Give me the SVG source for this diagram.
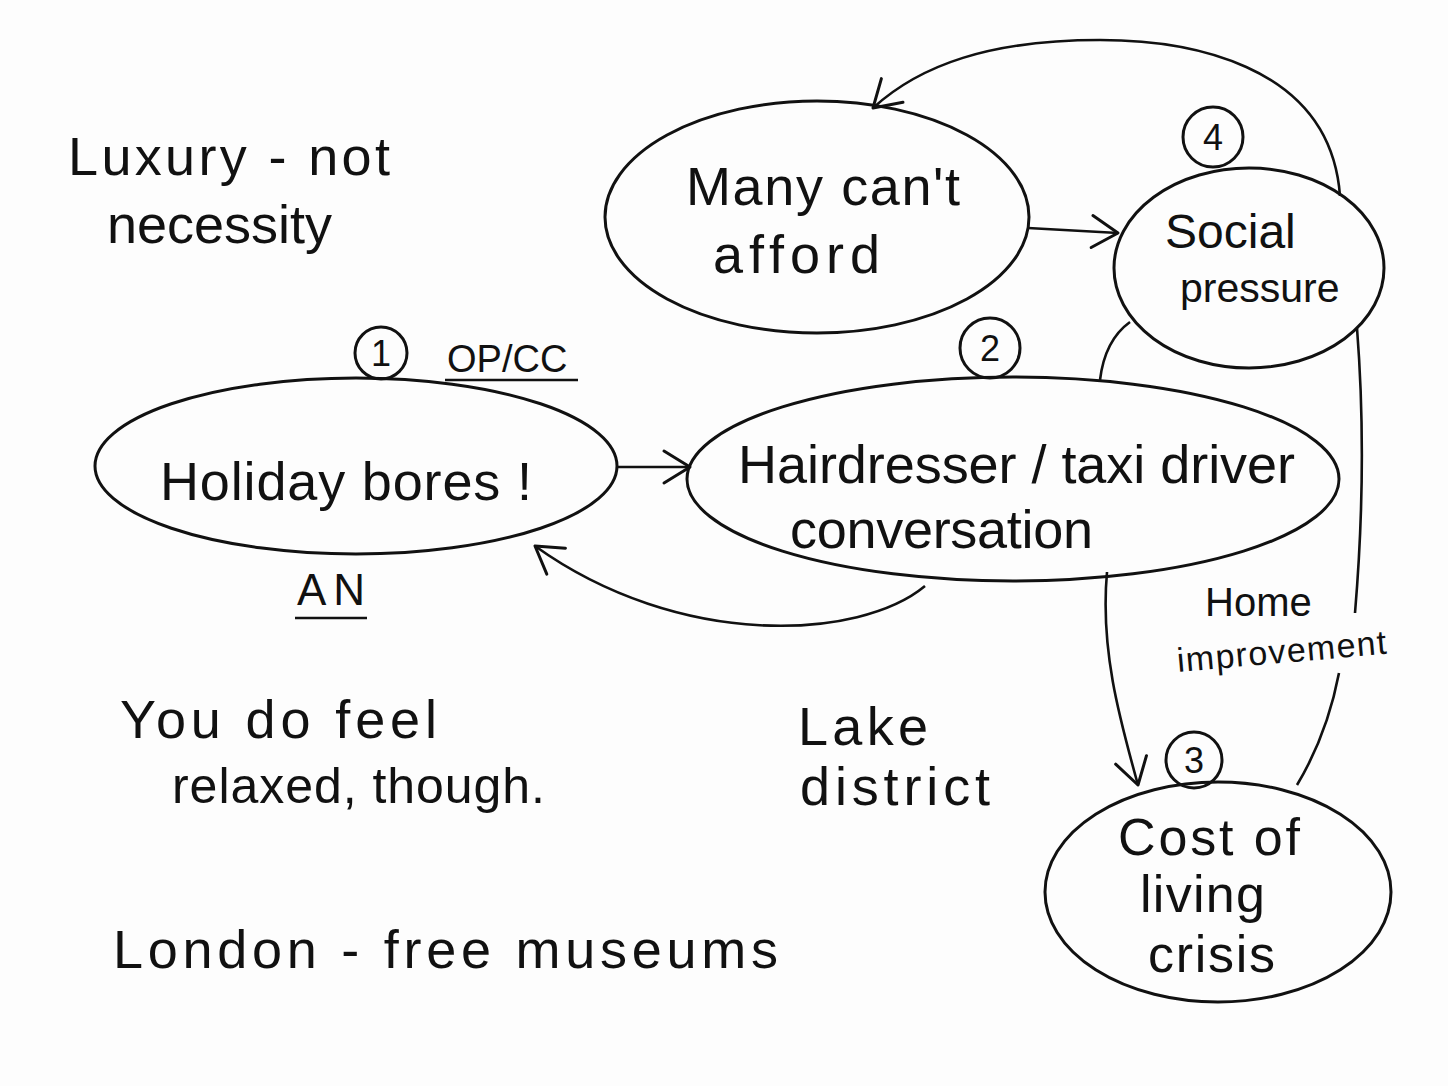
<svg xmlns="http://www.w3.org/2000/svg" width="1448" height="1086" viewBox="0 0 1448 1086">
<defs>
<style>
.n{fill:none;stroke:#111;stroke-width:3}
.c{fill:none;stroke:#111;stroke-width:2.6}
.t{font-family:"Liberation Sans","DejaVu Sans",sans-serif;fill:#111;text-anchor:start}
.big{font-size:54px}
.mid{font-size:44px}
.num{font-size:36px;text-anchor:middle}
</style>
<marker id="arrL" markerWidth="40" markerHeight="40" refX="30" refY="20" orient="auto" markerUnits="userSpaceOnUse">
<path d="M4,4 L30,20 L4,36" fill="none" stroke="#111" stroke-width="3" stroke-linecap="round" stroke-linejoin="round"/>
</marker>
</defs>
<rect width="1448" height="1086" fill="#fdfdfd"/>

<g id="connectors">
<path class="c" d="M618,467 L690,467" marker-end="url(#arrL)"/>
<path class="c" d="M925,586 C860,640 680,650 535,546" marker-end="url(#arrL)"/>
<path class="c" d="M1028,228 L1118,233" marker-end="url(#arrL)"/>
<path class="c" d="M1340,196 C1330,60 1180,40 1100,40 C990,40 920,65 873,108" marker-end="url(#arrL)"/>
<path class="c" d="M1130,322 C1112,335 1103,355 1100,380"/>
<path class="c" d="M1107,572 C1100,650 1120,720 1138,785" marker-end="url(#arrL)"/>
<path class="c" d="M1357,328 C1365,430 1362,530 1355,613"/>
<path class="c" d="M1339,673 C1330,720 1315,755 1297,785"/>
</g>

<g id="node-holiday">
<ellipse class="n" cx="356" cy="466" rx="261" ry="88"/>
<text class="t big" x="160" y="500" textLength="372" lengthAdjust="spacing">Holiday bores !</text>
</g>
<g id="node-hairdresser">
<ellipse class="n" cx="1013" cy="479" rx="326" ry="102"/>
<text class="t big" x="738" y="483" textLength="557" lengthAdjust="spacing">Hairdresser / taxi driver</text>
<text class="t big" x="790" y="548" textLength="303" lengthAdjust="spacing">conversation</text>
</g>
<g id="node-afford">
<ellipse class="n" cx="817" cy="217" rx="212" ry="116"/>
<text class="t big" x="686" y="205" textLength="274" lengthAdjust="spacing">Many can't</text>
<text class="t big" x="713" y="273" textLength="167" lengthAdjust="spacing">afford</text>
</g>
<g id="node-social">
<ellipse class="n" cx="1249" cy="268" rx="135" ry="100"/>
<text class="t" font-size="48" x="1165" y="248">Social</text>
<text class="t" font-size="41" x="1180" y="302">pressure</text>
</g>
<g id="node-cost">
<ellipse class="n" cx="1218" cy="892" rx="173" ry="110"/>
<text class="t" font-size="52" x="1118" y="855" textLength="182" lengthAdjust="spacing">Cost of</text>
<text class="t" font-size="52" x="1140" y="912" textLength="125" lengthAdjust="spacing">living</text>
<text class="t" font-size="52" x="1148" y="972" textLength="127" lengthAdjust="spacing">crisis</text>
</g>

<g id="badge-1">
<circle class="n" cx="381" cy="353" r="26"/>
<text class="t num" x="381" y="366">1</text>
</g>
<g id="badge-2">
<circle class="n" cx="990" cy="348" r="30"/>
<text class="t num" x="990" y="361">2</text>
</g>
<g id="badge-4">
<circle class="n" cx="1213" cy="137" r="30"/>
<text class="t num" x="1213" y="150">4</text>
</g>
<g id="badge-3">
<circle class="n" cx="1194" cy="760" r="28"/>
<text class="t num" x="1194" y="773">3</text>
</g>

<g id="labels">
<text class="t" font-size="38" x="447" y="372">OP/CC</text>
<path class="c" d="M445,380 L578,380"/>
<text class="t mid" x="297" y="605" textLength="68" lengthAdjust="spacing">AN</text>
<path class="c" d="M295,618 L367,618"/>
<text class="t big" x="68" y="175" textLength="322" lengthAdjust="spacing">Luxury - not</text>
<text class="t big" x="107" y="243" textLength="225" lengthAdjust="spacing">necessity</text>
<text class="t big" x="120" y="738" textLength="317" lengthAdjust="spacing">You do feel</text>
<text class="t" font-size="50" x="172" y="803" textLength="373" lengthAdjust="spacing">relaxed, though.</text>
<text class="t big" x="113" y="968" textLength="665" lengthAdjust="spacing">London - free museums</text>
<text class="t big" x="798" y="745" textLength="130" lengthAdjust="spacing">Lake</text>
<text class="t big" x="800" y="805" textLength="190" lengthAdjust="spacing">district</text>
<text class="t" font-size="40" x="1205" y="616">Home</text>
<text class="t" font-size="34" x="1178" y="672" textLength="210" lengthAdjust="spacing" transform="rotate(-5 1178 672)">improvement</text>
</g>
</svg>
